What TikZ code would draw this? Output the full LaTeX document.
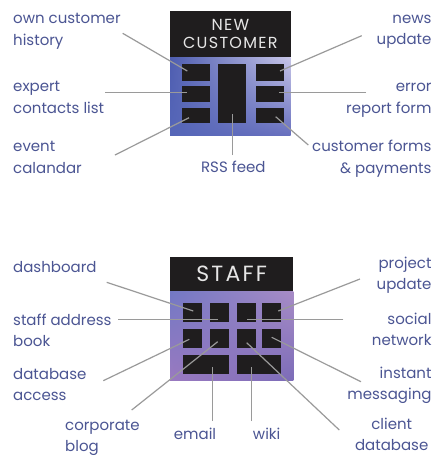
\documentclass[tikz,border=0pt]{standalone}
\usepackage{fontspec}
\setmainfont{Poppins}
\usetikzlibrary{calc,shadings}
\definecolor{txt}{HTML}{4B5593}
\definecolor{conn}{HTML}{9A9A9A}
\definecolor{ink}{HTML}{1F1D1E}
\definecolor{hdtxt}{HTML}{E6E6E6}
\definecolor{bUL}{HTML}{4E5DB0}
\definecolor{bLL}{HTML}{5566B8}
\definecolor{bUR}{HTML}{C8C6E8}
\definecolor{bLR}{HTML}{6870BE}
\definecolor{pUL}{HTML}{7278C4}
\definecolor{pLL}{HTML}{9A7AC0}
\definecolor{pUR}{HTML}{A88CC6}
\definecolor{pLR}{HTML}{7C6CB8}
\begin{document}
\begin{tikzpicture}[x=1pt,y=-1pt,
  lbl/.style={text=txt,font=\fontsize{15}{21.7}\selectfont,inner sep=0pt},
  lblL/.style={lbl,align=left,anchor=base west},
  lblR/.style={lbl,align=right,anchor=base east},
  lblC/.style={lbl,align=center,anchor=base},
  tile/.style={fill=ink,draw=none,inner sep=0pt,minimum width=#1},
  wire/.style={draw=conn,line width=1.2pt},
  header/.style={fill=ink,draw=none,inner sep=0pt,text=hdtxt,align=center}]
\useasboundingbox (0,0) rectangle (437,456);
\fill[white] (0,0) rectangle (437,456);

% ---------- NEW CUSTOMER panel ----------
\shade[upper left=bUL, lower left=bLL, upper right=bUR, lower right=bLR]
  (170,57) rectangle (290.7,135);
\node[header,minimum width=120.7pt,minimum height=46pt,
  font=\fontsize{16}{18}\selectfont\addfontfeature{LetterSpace=8}] (hnc) at (230.35,34)
  {NEW\\CUSTOMER};
\node[tile=28pt,minimum height=16.7pt] (c1) at (196,72.6) {};
\node[tile=28pt,minimum height=15.7pt] (c2) at (196,93.9) {};
\node[tile=28pt,minimum height=15.6pt] (c3) at (196,115.5) {};
\node[tile=27.7pt,minimum height=59pt] (c4) at (232.2,93.8) {};
\node[tile=28.3pt,minimum height=16.7pt] (c5) at (269.9,72.6) {};
\node[tile=28.3pt,minimum height=15.7pt] (c6) at (269.9,93.9) {};
\node[tile=28.3pt,minimum height=15.6pt] (c7) at (269.9,115.5) {};

% base anchor = baseline of the last line
\node[lblL] (t1) at (13,45) {own customer\\history};
\node[lblL] (t2) at (13,113.4) {expert\\contacts list};
\node[lblL] (t3) at (13,173.4) {event\\calandar};
\node[lblC] (t4) at (233.3,172.3) {RSS feed};
\node[lblR] (t5) at (431.7,44.7) {news\\update};
\node[lblR] (t6) at (431.7,113.4) {error\\report form};
\node[lblR] (t7) at (431.7,173.4) {customer forms\\\& payments};

\coordinate (s1) at (122.7,33.3); \coordinate (e1) at (187.3,71);
\coordinate (s2) at (105,92.7);   \coordinate (e2) at (187,92.7);
\coordinate (s3) at (115,155);    \coordinate (e3) at (189,117.7);
\coordinate (s4) at (232.3,155);  \coordinate (e4) at (232.3,114);
\coordinate (s5) at (361.7,35.7); \coordinate (e5) at (280,71);
\coordinate (s6) at (366,92.7);   \coordinate (e6) at (279,92.7);
\coordinate (s7) at (308.3,145);  \coordinate (e7) at (275.7,116.7);
\foreach \i in {1,...,7} {\draw[wire] (s\i) -- (e\i);}

% ---------- STAFF panel ----------
\shade[upper left=pUL, lower left=pLL, upper right=pUR, lower right=pLR]
  (170,291) rectangle (293.3,380.7);
\node[header,minimum width=123.3pt,minimum height=33.7pt,
  font=\fontsize{22}{24}\selectfont\addfontfeature{LetterSpace=10}] (hst) at (231.65,274.15)
  {STAFF};
\foreach \n/\x in {1/192.2,2/219.5,3/246.65,4/271.5} {
  \node[tile=19pt,minimum height=19pt] (a\n) at (\x,312.2) {};
  \node[tile=19pt,minimum height=18.7pt] (b\n) at (\x,338.35) {};
}
\node[tile=46.3pt,minimum height=19pt] (w1) at (205.85,364.5) {};
\node[tile=43.7pt,minimum height=19pt] (w2) at (259.15,364.5) {};

\node[lblL] (u1) at (13,272.7) {dashboard};
\node[lblL] (u2) at (13,346.7) {staff address\\book};
\node[lblL] (u3) at (13,400.7) {database\\access};
\node[lblL] (u4) at (65,451.7) {corporate\\blog};
\node[lblC] (u5) at (195,439) {email};
\node[lblC] (u6) at (266.7,439) {wiki};
\node[lblR] (u7) at (431.7,289.7) {project\\update};
\node[lblR] (u8) at (431.7,345.7) {social\\network};
\node[lblR] (u9) at (431.7,399.7) {instant\\messaging};
\node[lblC] (u10) at (391.7,450.7) {client\\database};

\coordinate (p1) at (106.7,282.3); \coordinate (q1) at (193.3,311);
\coordinate (p2) at (118.3,319.3); \coordinate (q2) at (218.3,319.3);
\coordinate (p3) at (103.3,380.7); \coordinate (q3) at (189.3,339.3);
\coordinate (p4) at (131.7,410);   \coordinate (q4) at (217.7,341.7);
\coordinate (p5) at (212.5,421);   \coordinate (q5) at (212.5,367.3);
\coordinate (p6) at (251.7,421);   \coordinate (q6) at (251.7,367.3);
\coordinate (p7) at (360,279);     \coordinate (q7) at (278.3,311);
\coordinate (p8) at (343.3,319.3); \coordinate (q8) at (247.3,319.3);
\coordinate (p9) at (361,381.7);   \coordinate (q9) at (271.7,337.3);
\coordinate (p10) at (339.3,430);  \coordinate (q10) at (246.7,342.7);
\foreach \i in {1,...,10} {\draw[wire] (p\i) -- (q\i);}
\end{tikzpicture}
\end{document}
